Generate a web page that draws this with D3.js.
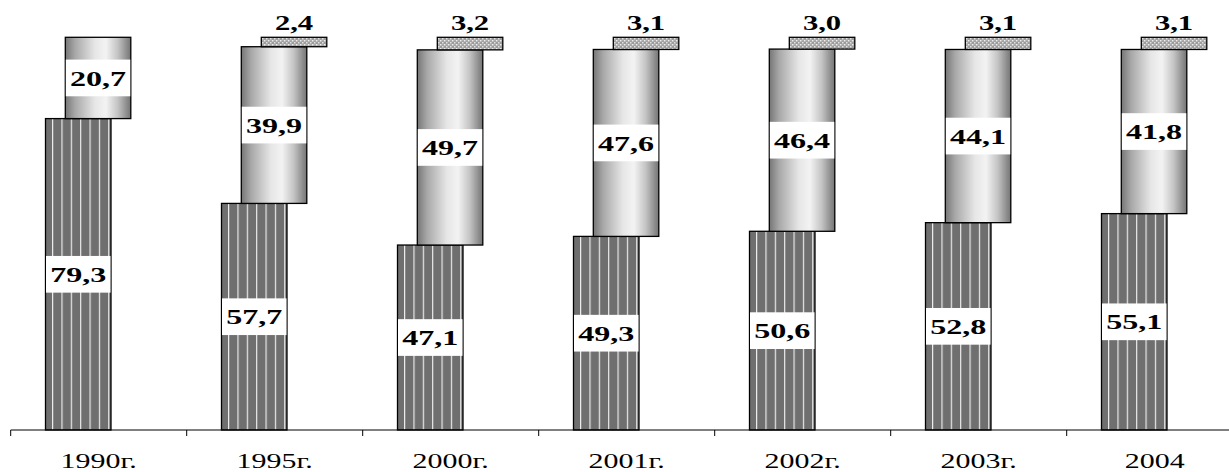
<!DOCTYPE html>
<html>
<head>
<meta charset="utf-8">
<script src="https://cdn.jsdelivr.net/npm/d3@7/dist/d3.min.js"></script>
<style>
  html, body { margin: 0; padding: 0; background: #fff; }
  svg { display: block; }
</style>
</head>
<body>
<svg id="chart" width="1229" height="472"></svg>
<script>
const categories = ["1990г.", "1995г.", "2000г.", "2001г.", "2002г.", "2003г.", "2004"];
const series1 = [79.3, 57.7, 47.1, 49.3, 50.6, 52.8, 55.1];
const series2 = [20.7, 39.9, 49.7, 47.6, 46.4, 44.1, 41.8];
const series3 = [0, 2.4, 3.2, 3.1, 3.0, 3.1, 3.1];
const seriesLabels3 = ["", "2,4", "3,2", "3,1", "3,0", "3,1", "3,1"];

const fmt = v => v.toFixed(1).replace(".", ",");
const SX = 1.46; // horizontal text stretch as in the reference
const FONT = "'Liberation Serif', 'Times New Roman', Times, serif";

const svg = d3.select("#chart");
const defs = svg.append("defs");

// vertical stripes pattern for series 1
const p1 = defs.append("pattern").attr("id", "stripes")
  .attr("patternUnits", "objectBoundingBox")
  .attr("width", 1 / 7).attr("height", 1);
p1.append("rect").attr("width", 20).attr("height", 1000).attr("fill", "#6f6f6f");
p1.append("rect").attr("x", 6.6).attr("width", 1.1).attr("height", 1000).attr("fill", "#f4f4f4");

// cylinder gradient for series 2
const g2 = defs.append("linearGradient").attr("id", "cyl").attr("x1", "0").attr("x2", "1").attr("y1", "0").attr("y2", "0");
[[0, "#767676"], [0.15, "#a8a8a8"], [0.45, "#e6e6e6"], [0.62, "#f3f3f3"], [0.8, "#c4c4c4"], [1, "#747474"]]
  .forEach(([o, c]) => g2.append("stop").attr("offset", o).attr("stop-color", c));

// speckled pattern for series 3
const p3 = defs.append("pattern").attr("id", "speck")
  .attr("patternUnits", "userSpaceOnUse").attr("width", 4).attr("height", 4);
p3.append("rect").attr("width", 4).attr("height", 4).attr("fill", "#9c9c9c");
p3.append("rect").attr("x", 0).attr("y", 0).attr("width", 1.5).attr("height", 1.5).attr("fill", "#eeeeee");
p3.append("rect").attr("x", 2).attr("y", 2).attr("width", 1.5).attr("height", 1.5).attr("fill", "#e2e2e2");
p3.append("rect").attr("x", 2.5).attr("y", 0.3).attr("width", 1).attr("height", 1).attr("fill", "#cfcfcf");

const x0 = 10.7, step = 176;
const x = d3.scaleBand().domain(categories).range([x0, x0 + step * categories.length]).paddingInner(0).paddingOuter(0);
const y = d3.scaleLinear().domain([0, 100]).range([430, 37.3]);

const barW = 65.5;
const offs = [34.8, 54.6, 74.6];

const data = categories.map((c, i) => ({ c, s1: series1[i], s2: series2[i], s3: series3[i], l3: seriesLabels3[i] }));

const g = svg.append("g");

// series 1
g.selectAll("rect.s1").data(data).join("rect").attr("class", "s1")
  .attr("x", d => x(d.c) + offs[0]).attr("width", barW)
  .attr("y", d => y(d.s1)).attr("height", d => y(0) - y(d.s1))
  .attr("fill", "url(#stripes)").attr("stroke", "#000").attr("stroke-width", 1.3);

// series 2
g.selectAll("rect.s2").data(data).join("rect").attr("class", "s2")
  .attr("x", d => x(d.c) + offs[1]).attr("width", barW)
  .attr("y", d => y(d.s1 + d.s2)).attr("height", d => y(d.s1) - y(d.s1 + d.s2))
  .attr("fill", "url(#cyl)").attr("stroke", "#000").attr("stroke-width", 1.3);

// series 3
g.selectAll("rect.s3").data(data.filter(d => d.s3 > 0)).join("rect").attr("class", "s3")
  .attr("x", d => x(d.c) + offs[2]).attr("width", barW)
  .attr("y", d => y(d.s1 + d.s2 + d.s3)).attr("height", d => y(d.s1 + d.s2) - y(d.s1 + d.s2 + d.s3))
  .attr("fill", "url(#speck)").attr("stroke", "#000").attr("stroke-width", 1.3);

// boxed labels
const boxH = 36.7;
function boxLabel(sel, getX, getMid, getText) {
  const lg = sel.append("g");
  lg.selectAll("rect").data(data).join("rect")
    .attr("x", d => getX(d) + 0.5).attr("width", barW - 1)
    .attr("y", d => getMid(d) - boxH / 2).attr("height", boxH)
    .attr("fill", "#fff");
  lg.selectAll("text").data(data).join("text")
    .attr("transform", d => `translate(${getX(d) + barW / 2},${getMid(d) + 7.6}) scale(${SX},1)`)
    .attr("text-anchor", "middle")
    .attr("font-family", FONT)
    .attr("font-weight", "bold").attr("font-size", 22).attr("fill", "#000")
    .text(getText);
}
boxLabel(svg, d => x(d.c) + offs[0], d => (y(0) + y(d.s1)) / 2, d => fmt(d.s1));
boxLabel(svg, d => x(d.c) + offs[1], d => (y(d.s1) + y(d.s1 + d.s2)) / 2, d => fmt(d.s2));

// series 3 labels above the bars
svg.append("g").selectAll("text").data(data.filter(d => d.s3 > 0)).join("text")
  .attr("transform", d => `translate(${x(d.c) + offs[2] + barW / 2},${y(d.s1 + d.s2 + d.s3) - 7.5}) scale(${SX},1)`)
  .attr("text-anchor", "middle")
  .attr("font-family", FONT)
  .attr("font-weight", "bold").attr("font-size", 21).attr("fill", "#000")
  .text(d => d.l3);

// x axis
const ax = svg.append("g");
ax.append("line").attr("x1", x0).attr("x2", 1229).attr("y1", 430).attr("y2", 430)
  .attr("stroke", "#000").attr("stroke-width", 1);
ax.selectAll("line.tick").data(categories).join("line").attr("class", "tick")
  .attr("x1", d => x(d)).attr("x2", d => x(d)).attr("y1", 430).attr("y2", 436)
  .attr("stroke", "#000").attr("stroke-width", 1);
ax.selectAll("text").data(categories).join("text")
  .attr("transform", d => `translate(${x(d) + x.bandwidth() / 2},467.5) scale(${SX},1)`)
  .attr("text-anchor", "middle")
  .attr("font-family", FONT)
  .attr("font-size", 20.5).attr("fill", "#000")
  .text(d => d);
</script>
</body>
</html>
